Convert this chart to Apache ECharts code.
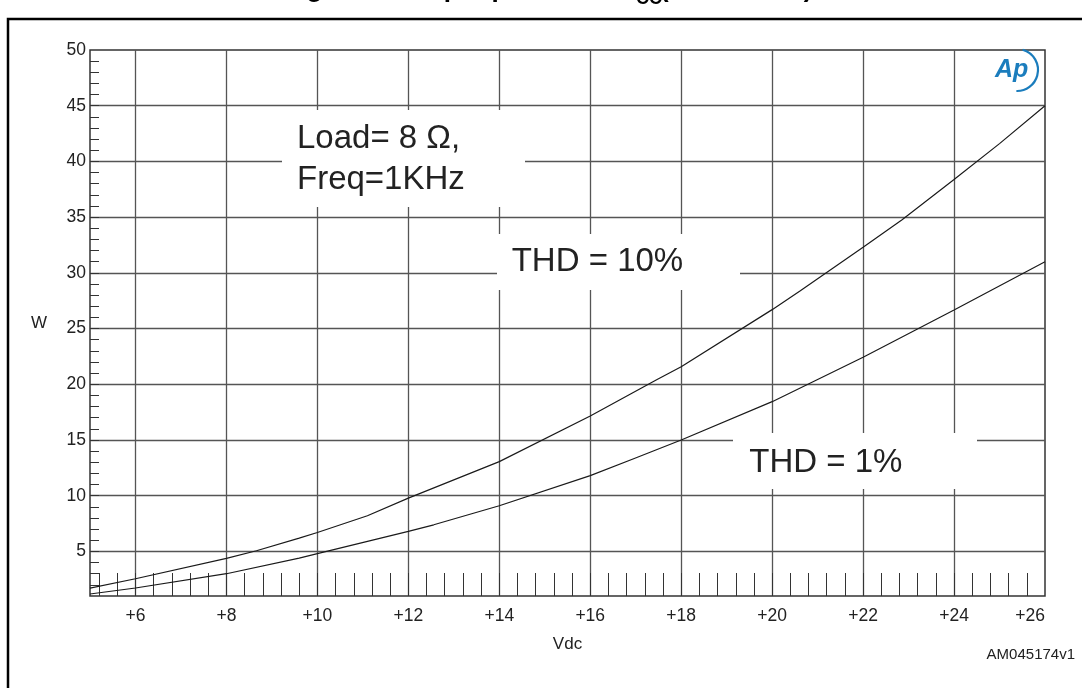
<!DOCTYPE html>
<html><head><meta charset="utf-8">
<script src="https://cdn.jsdelivr.net/npm/echarts@6/dist/echarts.min.js"></script>
<style>html,body{margin:0;padding:0;background:#fff}#c{width:1082px;height:688px}</style>
</head><body><div id="c"></div>
<script>
// ---- data ----
const vdcLabels = [6, 8, 10, 12, 14, 16, 18, 20, 22, 24, 26];
const vdcGrid = [6, 8, 10, 12, 14, 16, 18, 20, 22, 24];
const vdcMinor = [5.2, 5.6, 6.0, 6.4, 6.8, 7.2, 7.6, 8.0, 8.4, 8.8, 9.2, 9.6, 10.0, 10.4, 10.8, 11.2, 11.6, 12.0,
  12.4, 12.8, 13.2, 13.6, 14.0, 14.4, 14.8, 15.2, 15.6, 16.0, 16.4, 16.8, 17.2, 17.6, 18.0, 18.4, 18.8, 19.2,
  19.6, 20.0, 20.4, 20.8, 21.2, 21.6, 22.0, 22.4, 22.8, 23.2, 23.6, 24.0, 24.4, 24.8, 25.2, 25.6];
const wLabels = [5, 10, 15, 20, 25, 30, 35, 40, 45, 50];
const wGrid = [5, 10, 15, 20, 25, 30, 35, 40, 45];
const wMinor = [2, 3, 4, 5, 6, 7, 8, 9, 10, 11, 12, 13, 14, 15, 16, 17, 18, 19, 20, 21, 22, 23, 24, 25,
  26, 27, 28, 29, 30, 31, 32, 33, 34, 35, 36, 37, 38, 39, 40, 41, 42, 43, 44, 45, 46, 47, 48, 49];
const thd10 = [[5, 1.7], [6, 2.55], [8, 4.37], [8.66, 5.06], [9.6, 6.2], [10, 6.7], [11.1, 8.2], [12, 9.78],
  [14, 13.06], [16, 17.16], [17.46, 20.4], [18, 21.58], [20, 26.7], [20.62, 28.4], [22, 32.3], [22.85, 34.75],
  [24, 38.37], [25, 41.6], [26, 45.0]];
const thd1 = [[5, 1.18], [6, 1.72], [8, 3.0], [9.6, 4.4], [10, 4.8], [12, 6.8], [12.56, 7.39], [14, 9.1],
  [16, 11.8], [16.94, 13.3], [18, 15.0], [20, 18.44], [22, 22.42], [24, 26.66], [26, 31.0]];
const xName = 'Vdc';
const yName = 'W';
const noteLoad = ['Load= 8 \u03A9,', 'Freq=1KHz'];
const note10 = 'THD = 10%';
const note1 = 'THD = 1%';
const figId = 'AM045174v1';

// ---- chart ----
const FONT = '"Liberation Sans", Arial, sans-serif';
const gridColor = '#555';
const chart = echarts.init(document.getElementById('c'), null, {renderer: 'canvas'});
const option = {
  animation: false,
  backgroundColor: '#fff',
  grid: {left: 90, right: 37, top: 50, bottom: 92, show: true, borderColor: '#333', borderWidth: 1.5, backgroundColor: 'transparent'},
  xAxis: [{
    type: 'value', min: 5, max: 26, position: 'bottom',
    name: xName, nameLocation: 'middle', nameGap: 40,
    nameTextStyle: {fontFamily: FONT, fontSize: 17, color: '#222'},
    axisLine: {show: false},
    axisTick: {show: false, customValues: vdcGrid},
    axisLabel: {customValues: vdcLabels, formatter: v => '+' + v, fontFamily: FONT, fontSize: 17.5, color: '#222', margin: 11, alignMaxLabel: 'right'},
    splitLine: {show: true, lineStyle: {color: gridColor, width: 1.3}}
  }, {
    type: 'value', min: 5, max: 26, position: 'bottom',
    axisLine: {show: false},
    axisTick: {show: true, inside: true, length: 23, customValues: vdcMinor, lineStyle: {color: '#333', width: 1}},
    axisLabel: {show: false},
    splitLine: {show: false}
  }],
  yAxis: [{
    type: 'value', min: 1, max: 50, position: 'left',
    name: yName, nameLocation: 'middle', nameGap: 43, nameRotate: 0,
    nameTextStyle: {fontFamily: FONT, fontSize: 17, color: '#222', padding: [10, 0, 0, 0]},
    axisLine: {show: false},
    axisTick: {show: false, customValues: wGrid},
    axisLabel: {customValues: wLabels, fontFamily: FONT, fontSize: 17.5, color: '#222', margin: 4},
    splitLine: {show: true, lineStyle: {color: gridColor, width: 1.3}}
  }, {
    type: 'value', min: 1, max: 50, position: 'left',
    axisLine: {show: false},
    axisTick: {show: true, inside: true, length: 9, customValues: wMinor, lineStyle: {color: '#333', width: 1}},
    axisLabel: {show: false},
    splitLine: {show: false}
  }],
  series: [{
    name: note10, type: 'line', data: thd10, showSymbol: false, symbol: 'none',
    lineStyle: {color: '#1a1a1a', width: 1.2}, z: 5
  }, {
    name: note1, type: 'line', data: thd1, showSymbol: false, symbol: 'none',
    lineStyle: {color: '#1a1a1a', width: 1.2}, z: 5
  }],
  graphic: [
    // outer frame
    {type: 'rect', z: 200, silent: true, shape: {x: 8, y: 19, width: 1100, height: 700},
      style: {fill: null, stroke: '#000', lineWidth: 2.5}},
    // clipped title (only lower part visible)
    {type: 'text', z: 200, x: 636, y: -10, style: {text: 'Figure 9. Output power vs. V', font: 'bold 26px ' + FONT, fill: '#000', align: 'right', verticalAlign: 'middle'}},
    {type: 'text', z: 200, x: 636, y: -1, style: {text: 'CC', font: 'bold 18px ' + FONT, fill: '#000', align: 'left', verticalAlign: 'middle'}},
    {type: 'text', z: 200, x: 660, y: -10, style: {text: '(THD = 10%)', font: 'bold 26px ' + FONT, fill: '#000', align: 'left', verticalAlign: 'middle'}},
    // annotations
    {type: 'rect', z: 50, shape: {x: 282, y: 110, width: 243, height: 97}, style: {fill: '#fff'}},
    {type: 'text', z: 51, x: 297, y: 138.6, style: {text: noteLoad[0], font: '33px ' + FONT, fill: '#222', verticalAlign: 'middle'}},
    {type: 'text', z: 51, x: 297, y: 180.3, style: {text: noteLoad[1], font: '33px ' + FONT, fill: '#222', verticalAlign: 'middle'}},
    {type: 'rect', z: 50, shape: {x: 497, y: 234, width: 243, height: 56}, style: {fill: '#fff'}},
    {type: 'text', z: 51, x: 511.7, y: 262, style: {text: note10, font: '33px ' + FONT, fill: '#222', verticalAlign: 'middle'}},
    {type: 'rect', z: 50, shape: {x: 733, y: 433, width: 244, height: 56}, style: {fill: '#fff'}},
    {type: 'text', z: 51, x: 749.3, y: 463, style: {text: note1, font: '33px ' + FONT, fill: '#222', verticalAlign: 'middle'}},
    // logo
    {type: 'text', z: 60, x: 995, y: 70, style: {text: 'Ap', font: 'italic bold 25px ' + FONT, fill: '#1b7dbd', verticalAlign: 'middle'}},
    {type: 'arc', z: 60, shape: {cx: 1017, cy: 70, r: 21, startAngle: -1.3, endAngle: 1.6, clockwise: true},
      style: {stroke: '#1b7dbd', lineWidth: 2.2, fill: null}},
    // figure id
    {type: 'text', z: 60, x: 1075, y: 655, style: {text: figId, font: '15px ' + FONT, fill: '#222', align: 'right', verticalAlign: 'middle'}}
  ]
};
chart.setOption(option);
</script>
</body></html>
